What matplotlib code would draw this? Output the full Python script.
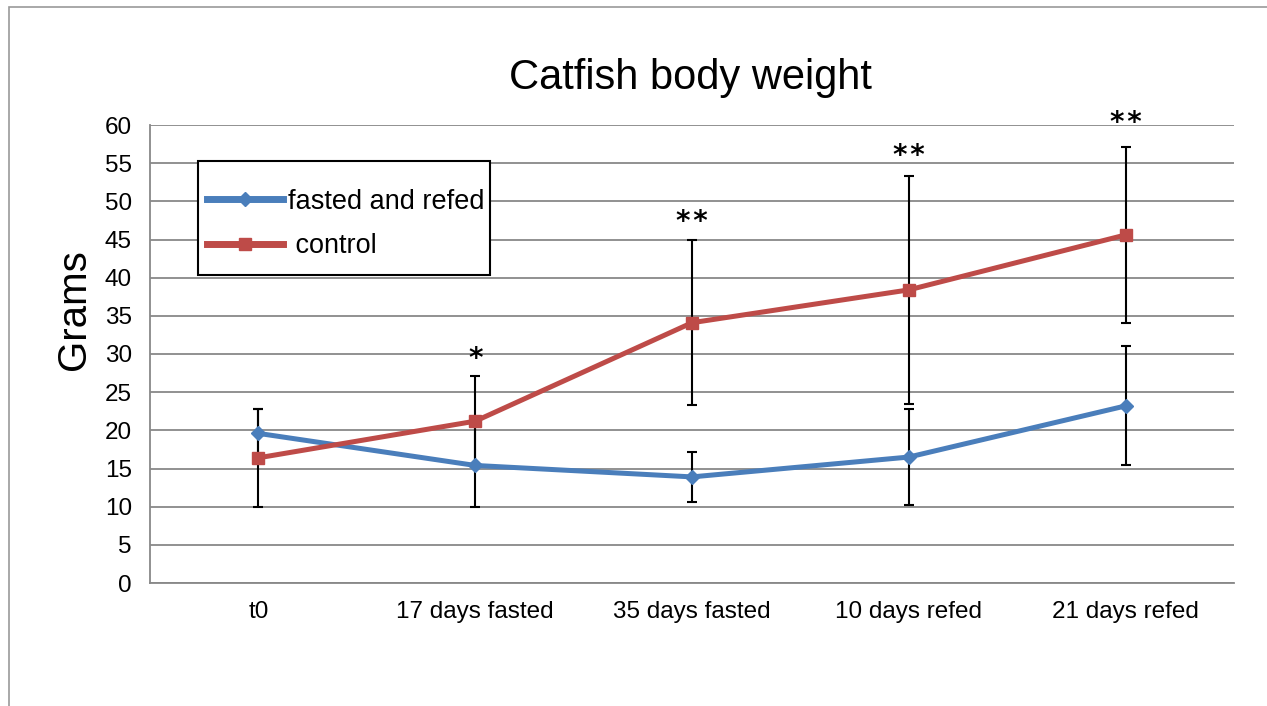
import matplotlib.pyplot as plt
from matplotlib.patches import Rectangle

plt.rcParams['font.family'] = ['Liberation Sans', 'DejaVu Sans']

categories = ['t0', '17 days fasted', '35 days fasted', '10 days refed', '21 days refed']
fasted = [19.6, 15.4, 13.9, 16.5, 23.2]
fasted_err = [3.2, 5.4, 3.3, 6.3, 7.8]
control = [16.4, 21.2, 34.1, 38.4, 45.6]
control_err = [6.4, 5.9, 10.8, 14.9, 11.5]
stars = ['*', '*', '**', '**', '**']
star_y = [None, 29.4, 47.3, 55.9, 60.3]

blue = '#4A7EBB'
red = '#BE4B48'

W, H = 1267, 706
fig = plt.figure(figsize=(W / 100, H / 100), dpi=100)
# outer chart frame (only left and top edges are inside the image)
fig.patches.append(Rectangle((9 / W, -0.1), 1.2, 1 - 7 / H + 0.1,
                             transform=fig.transFigure, fill=False,
                             edgecolor='#999999', linewidth=1.2))
ax = fig.add_axes([150 / W, 123 / H, 1084 / W, 458 / H])

x = list(range(len(categories)))

ax.errorbar(x, fasted, yerr=fasted_err, fmt='none', ecolor='black',
            elinewidth=1.5, capsize=3.8, capthick=1.5, zorder=3)
ax.errorbar(x, control, yerr=control_err, fmt='none', ecolor='black',
            elinewidth=1.5, capsize=3.8, capthick=1.5, zorder=3)
ax.plot(x, fasted, color=blue, linewidth=3.6, marker='D', markersize=7,
        label='fasted and refed', zorder=4)
ax.plot(x, control, color=red, linewidth=3.6, marker='s', markersize=8.5,
        label=' control', zorder=4)

for xi, s, yv in zip(x, stars, star_y):
    if yv is None:
        continue
    ax.text(xi, yv, '\u200a'.join(s), ha='center', va='center', fontsize=20,
            fontweight='bold', color='black', clip_on=False,
            fontfamily='DejaVu Sans')

ax.set_xlim(-0.5, 4.5)
ax.set_ylim(0, 60)
ax.set_yticks(range(0, 61, 5))
ax.set_xticks(x)
ax.set_xticklabels(categories)
ax.tick_params(axis='both', length=0, labelsize=17.5)
ax.tick_params(axis='x', pad=13)
ax.tick_params(axis='y', pad=13)
ax.grid(axis='y', color='#888888', linewidth=1.3)
ax.set_axisbelow(True)
for side in ['top', 'right']:
    ax.spines[side].set_visible(False)
for side in ['left', 'bottom']:
    ax.spines[side].set_color('#888888')
    ax.spines[side].set_linewidth(1.3)

fig.text(74 / W, 1 - 310 / H, 'Grams', fontsize=29, rotation=90,
         ha='center', va='center')
fig.text(690 / W, 1 - 78 / H, 'Catfish body weight', fontsize=30,
         ha='center', va='center')

# legend: entries without frame, box drawn separately
leg = fig.legend(loc='center left', bbox_to_anchor=(207 / W, 1 - 224 / H),
                 fontsize=19.5, frameon=False, handlelength=2.8,
                 handletextpad=0.2, borderpad=0, labelspacing=0.67,
                 borderaxespad=0)
for line in leg.get_lines():
    line.set_linewidth(5)
fig.patches.append(Rectangle((198 / W, 1 - 275 / H), 292 / W, 114 / H,
                             transform=fig.transFigure, fill=True,
                             facecolor='white', edgecolor='black',
                             linewidth=1.5, zorder=2))
leg.set_zorder(5)

plt.savefig('out.png', dpi=100)
